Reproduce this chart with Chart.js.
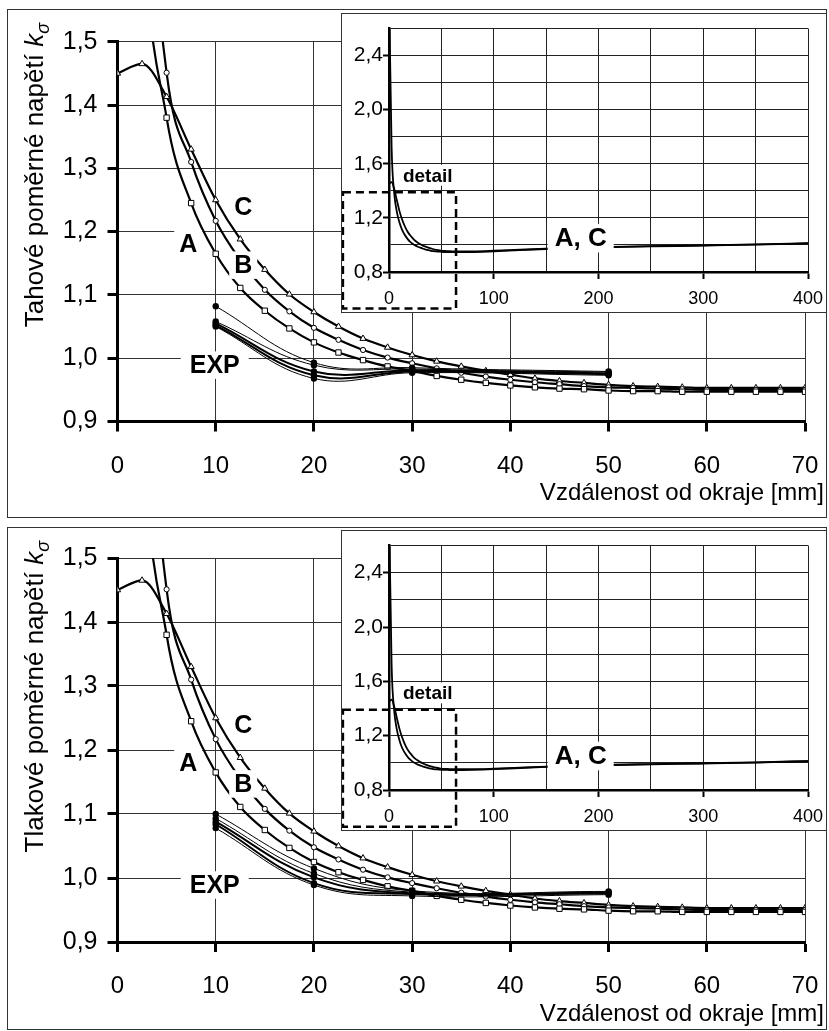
<!DOCTYPE html>
<html>
<head>
<meta charset="utf-8">
<script src="https://cdn.jsdelivr.net/npm/chart.js@4.4.1/dist/chart.umd.min.js"></script>
<style>
  body { margin:0; background:#fff; width:829px; height:1031px; position:relative; overflow:hidden; }
  .panel { position:absolute; left:7px; width:820px; border:1px solid #333; box-sizing:border-box; background:#fff; }
  .inset { position:absolute; left:341px; width:486px; border:1px solid #333; box-sizing:border-box; background:#fff; }
  canvas { display:block; }
</style>
</head>
<body>
<div class="panel" style="top:9px;height:509px"><canvas id="tahMain" width="818" height="507"></canvas></div>
<div class="inset" style="top:13px;height:300px"><canvas id="tahInset" width="484" height="298"></canvas></div>
<div class="panel" style="top:527px;height:503px"><canvas id="tlakMain" width="818" height="501"></canvas></div>
<div class="inset" style="top:530px;height:301px"><canvas id="tlakInset" width="484" height="299"></canvas></div>
<script>
// vzdalenost od okraje [mm] - body vypoctu
const xMain = [0,2.5,5,7.5,10,12.5,15,17.5,20,22.5,25,27.5,30,32.5,35,37.5,40,42.5,45,47.5,50,52.5,55,57.5,60,62.5,65,67.5,70];
// varianty A, B, C (stejne pro tah i tlak)
const kA = [2.90,1.72,1.380,1.245,1.165,1.111,1.075,1.047,1.025,1.009,0.997,0.987,0.980,0.972,0.966,0.961,0.957,0.954,0.952,0.951,0.949,0.948,0.948,0.947,0.947,0.947,0.947,0.947,0.947];
const kB = [3.10,1.93,1.451,1.310,1.217,1.155,1.108,1.074,1.048,1.029,1.013,1.001,0.992,0.984,0.977,0.971,0.966,0.962,0.959,0.956,0.954,0.953,0.952,0.951,0.950,0.950,0.950,0.950,0.950];
const kC = [1.450,1.465,1.413,1.330,1.250,1.188,1.140,1.101,1.073,1.050,1.031,1.017,1.005,0.995,0.987,0.980,0.974,0.968,0.964,0.961,0.958,0.956,0.955,0.954,0.953,0.953,0.953,0.953,0.953];
// pokracovani A, C v celkovem pohledu (inset)
const xTail = [80,100,125,150,200,250,300,350,400];
const tailA = [0.948,0.953,0.962,0.970,0.982,0.989,0.995,1.002,1.012];
const tailC = [0.953,0.957,0.965,0.972,0.984,0.991,0.997,1.004,1.013];
// experiment
const xExp = [10,20,30,50];
const tahExp = [
  [1.082,0.993,0.985,0.979],
  [1.058,0.989,0.983,0.978],
  [1.055,0.979,0.981,0.976],
  [1.052,0.973,0.979,0.975],
  [1.050,0.968,0.977,0.973]
];
const tlakExp = [
  [1.100,1.015,0.980,0.979],
  [1.093,1.007,0.978,0.978],
  [1.088,1.001,0.976,0.977],
  [1.084,0.992,0.975,0.976],
  [1.078,0.989,0.972,0.974]
];
const expWidths = [1,1,2,2,1];

// popisky
const mainNotes = [
  {text:'A', x:7.2, y:1.180},
  {text:'B', x:12.8, y:1.147},
  {text:'C', x:12.8, y:1.239},
  {text:'EXP', x:9.9, y:0.989, padX:9}
];
const insetNotes = [
  {text:'detail', x:37, y:1.515, size:19, padX:3},
  {text:'A, C', x:183, y:1.050, size:26, padX:7}
];
const detailBox = {x0:-44, x1:64, y0:0.53, y1:1.39};

const FONT = '"Liberation Sans", Arial, sans-serif';
Chart.defaults.font.family = FONT;
Chart.defaults.color = '#000';

const comma = v => v.toFixed(1).replace('.', ',');
const xy = (xs, ys) => xs.map((x, i) => ({x: x, y: ys[i]}));

// popisky s bilym podkladem
const notesPlugin = {
  id: 'notes',
  afterDraw(chart, args, o) {
    const ctx = chart.ctx, sx = chart.scales.x, sy = chart.scales.y;
    if (o.box) {
      const b = o.box;
      ctx.save();
      ctx.strokeStyle = '#000';
      ctx.lineWidth = 2.5;
      ctx.setLineDash([8,5]);
      const l = sx.getPixelForValue(b.x0), r = sx.getPixelForValue(b.x1);
      const t = sy.getPixelForValue(b.y1), bt = sy.getPixelForValue(b.y0);
      ctx.strokeRect(l, t, r - l, bt - t);
      ctx.restore();
    }
    (o.items || []).forEach(it => {
      const size = it.size || o.size;
      ctx.save();
      ctx.font = 'bold ' + size + 'px ' + FONT;
      const w = ctx.measureText(it.text).width;
      const px = sx.getPixelForValue(it.x), py = sy.getPixelForValue(it.y);
      const pad = it.padX != null ? it.padX : 5;
      const h = size * 1.1;
      ctx.fillStyle = '#fff';
      ctx.fillRect(px - w / 2 - pad, py - h / 2, w + 2 * pad, h);
      ctx.fillStyle = '#000';
      ctx.textAlign = 'center';
      ctx.textBaseline = 'middle';
      ctx.fillText(it.text, px, py + 1);
      ctx.restore();
    });
  }
};

// popisky os (x vpravo, y nahore se symbolem k_sigma)
const titlesPlugin = {
  id: 'titles',
  afterDraw(chart, args, o) {
    if (!o.yTitle) return;
    const ctx = chart.ctx, ca = chart.chartArea;
    ctx.save();
    ctx.fillStyle = '#000';
    ctx.font = '24px ' + FONT;
    ctx.textAlign = 'right';
    ctx.textBaseline = 'alphabetic';
    ctx.fillText(o.xTitle, chart.width - 2, ca.bottom + 78.5);

    ctx.translate(35, 13);
    ctx.rotate(-Math.PI / 2);
    ctx.textAlign = 'left';
    const fMain = '26px ' + FONT, fK = 'italic 26px ' + FONT, fS = 'italic 18px ' + FONT;
    ctx.font = fMain; const wM = ctx.measureText(o.yTitle + ' ').width;
    ctx.font = fK; const wK = ctx.measureText('k').width;
    ctx.font = fS; const wS = ctx.measureText('σ').width;
    const start = -(wM + wK + wS);
    ctx.font = fMain; ctx.fillText(o.yTitle + ' ', start, 0);
    ctx.font = fK; ctx.fillText('k', start + wM, 0);
    ctx.font = fS; ctx.fillText('σ', start + wM + wK, 6);
    ctx.restore();
  }
};

// pevne rozmery os, bez dalsiho odsazeni od popisku
const fixHeight = h => s => { s.height = h; s.paddingLeft = 0; s.paddingRight = 0; };
const fixWidth = w => s => { s.width = w; s.paddingTop = 0; s.paddingBottom = 0; };

function mainChart(id, yTitle, exp, padTop, xAxisH) {
  const datasets = [];
  exp.forEach((row, i) => {
    datasets.push({
      data: xy(xExp, row),
      borderColor: '#000', borderWidth: expWidths[i], tension: 0.4,
      pointRadius: 3.2, pointBackgroundColor: '#000', pointBorderWidth: 0
    });
  });
  [[kA, 'rect', 3.8], [kB, 'circle', 2.6], [kC, 'triangle', 3.6]].forEach(s => {
    datasets.push({
      data: xy(xMain, s[0]),
      borderColor: '#000', borderWidth: 2.2, cubicInterpolationMode: 'monotone',
      pointStyle: s[1], pointRadius: s[2], pointBackgroundColor: '#fff',
      pointBorderColor: '#000', pointBorderWidth: 1
    });
  });
  return new Chart(document.getElementById(id), {
    type: 'line',
    data: { datasets: datasets },
    plugins: [notesPlugin, titlesPlugin],
    options: {
      responsive: false, animation: false, events: [],
      layout: { padding: { top: padTop, right: 21, left: 0, bottom: 0 } },
      plugins: {
        legend: { display: false }, tooltip: { enabled: false },
        notes: { items: mainNotes, size: 25 },
        titles: { xTitle: 'Vzdálenost od okraje [mm]', yTitle: yTitle }
      },
      scales: {
        x: {
          type: 'linear', min: 0, max: 70,
          ticks: { stepSize: 10, font: { size: 24 }, padding: 20, maxRotation: 0 },
          grid: { color: '#333', lineWidth: 1, tickLength: 10, tickWidth: 3, tickColor: '#000' },
          border: { color: '#000', width: 3 },
          afterFit: fixHeight(xAxisH)
        },
        y: {
          min: 0.9, max: 1.5,
          ticks: { stepSize: 0.1, font: { size: 25 }, padding: 10, callback: v => comma(v) },
          grid: { color: '#333', lineWidth: 1, tickLength: 10, tickWidth: 3, tickColor: '#000' },
          border: { color: '#000', width: 3 },
          afterFit: fixWidth(109.5)
        }
      }
    }
  });
}

function insetChart(id) {
  const isMajorX = v => v % 100 === 0;
  const isMajorY = v => Math.round((v - 0.8) * 10) % 4 === 0;
  return new Chart(document.getElementById(id), {
    type: 'line',
    data: {
      datasets: [
        { data: xy(xMain.concat(xTail), kA.concat(tailA)), borderColor: '#000', borderWidth: 1.8,
          pointRadius: 0, cubicInterpolationMode: 'monotone' },
        { data: xy(xMain.concat(xTail), kC.concat(tailC)), borderColor: '#000', borderWidth: 1.8,
          pointRadius: 0, cubicInterpolationMode: 'monotone' }
      ]
    },
    plugins: [notesPlugin],
    options: {
      responsive: false, animation: false, events: [],
      layout: { padding: { top: 14.5, right: 18, left: 0, bottom: 0 } },
      plugins: {
        legend: { display: false }, tooltip: { enabled: false },
        notes: { items: insetNotes, size: 19, box: detailBox }
      },
      scales: {
        x: {
          type: 'linear', min: 0, max: 400,
          ticks: { stepSize: 50, font: { size: 18 }, padding: 9, maxRotation: 0, autoSkip: false,
                   callback: v => isMajorX(v) ? String(v) : '' },
          grid: { color: '#222', lineWidth: 1, tickLength: 7, tickWidth: 2,
                  tickColor: c => (c.tick && isMajorX(c.tick.value)) ? '#000' : 'rgba(0,0,0,0)' },
          border: { color: '#000', width: 2.5 },
          afterFit: fixHeight(40)
        },
        y: {
          min: 0.8, max: 2.6,
          ticks: { stepSize: 0.2, font: { size: 21 }, padding: 0, autoSkip: false,
                   callback: v => isMajorY(v) ? comma(v) : '' },
          grid: { color: '#222', lineWidth: 1, tickLength: 6, tickWidth: 2,
                  tickColor: c => (c.tick && isMajorY(c.tick.value)) ? '#000' : 'rgba(0,0,0,0)' },
          border: { color: '#000', width: 2.5 },
          afterFit: fixWidth(47)
        }
      }
    }
  });
}

mainChart('tahMain', 'Tahové poměrné napětí', tahExp, 31.7, 95.5);
insetChart('tahInset');
mainChart('tlakMain', 'Tlakové poměrné napětí', tlakExp, 30, 87);
insetChart('tlakInset');
</script>
</body>
</html>
